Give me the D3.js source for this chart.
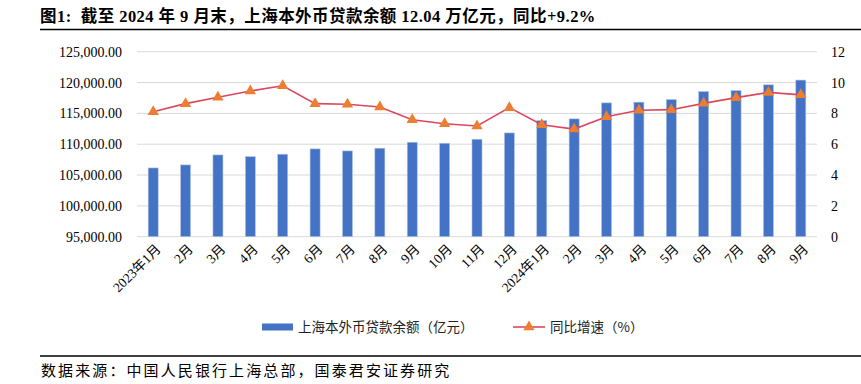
<!DOCTYPE html>
<html>
<head>
<meta charset="utf-8">
<script src="https://cdn.jsdelivr.net/npm/d3@7/dist/d3.min.js"></script>
<style>
  body { margin: 0; background: #fff; }
  svg { display: block; }
</style>
</head>
<body>
<div id="chart"></div>
<script>
// data
const months = ["2023年1月", "2月", "3月", "4月", "5月", "6月", "7月", "8月", "9月", "10月", "11月", "12月",
                "2024年1月", "2月", "3月", "4月", "5月", "6月", "7月", "8月", "9月"];
const loans = [106150, 106640, 108260, 107990, 108380, 109240, 108910, 109350, 110320, 110160, 110810, 111830,
               113830, 114110, 116700, 116820, 117240, 118540, 118700, 119630, 120400];
const yoy = [8.1, 8.63, 9.04, 9.45, 9.79, 8.63, 8.59, 8.41, 7.59, 7.33, 7.18, 8.37,
             7.26, 6.98, 7.78, 8.2, 8.24, 8.65, 9.02, 9.36, 9.2];
const leftTicks = [95000, 100000, 105000, 110000, 115000, 120000, 125000];
const rightTicks = [0, 2, 4, 6, 8, 10, 12];

const W = 861, H = 384;
const plot = {left: 137, right: 817, top: 51.7, bottom: 236.7};
const serif = "'Liberation Serif', 'Times New Roman', 'Noto Sans CJK SC', serif";
const cjk = "'Noto Sans CJK SC', sans-serif";

const svg = d3.select("#chart").append("svg")
    .attr("width", W)
    .attr("height", H);

// title + rule
svg.append("text")
    .attr("x", 40).attr("y", 21.5)
    .attr("font-family", serif)
    .attr("font-weight", "bold")
    .attr("font-size", 16.5)
    .attr("letter-spacing", 0.45)
    .attr("fill", "#000")
    .attr("xml:space", "preserve")
    .text("图1:  截至 2024 年 9 月末，上海本外币贷款余额 12.04 万亿元，同比+9.2%");
svg.append("line")
    .attr("x1", 40).attr("x2", W)
    .attr("y1", 29.5).attr("y2", 29.5)
    .attr("stroke", "#000").attr("stroke-width", 1.3);

// scales
const x = d3.scaleBand()
    .domain(months.map((d, i) => i))
    .range([plot.left, plot.right])
    .paddingInner(0.69)
    .paddingOuter(0.345);
const yL = d3.scaleLinear().domain([95000, 125000]).range([plot.bottom, plot.top]);
const yR = d3.scaleLinear().domain([0, 12]).range([plot.bottom, plot.top]);

// grid lines
svg.append("g")
  .selectAll("line")
  .data(leftTicks)
  .join("line")
    .attr("x1", plot.left).attr("x2", plot.right)
    .attr("y1", d => yL(d)).attr("y2", d => yL(d))
    .attr("stroke", "#d9d9d9")
    .attr("stroke-width", 1);

// left axis
const axL = svg.append("g")
    .attr("transform", `translate(${plot.left - 12},0)`)
    .call(d3.axisLeft(yL).tickValues(leftTicks).tickFormat(d3.format(",.2f")).tickSize(0));
axL.select(".domain").remove();
axL.selectAll("text")
    .attr("font-family", serif)
    .attr("font-size", 14)
    .attr("fill", "#000");

// right axis
const axR = svg.append("g")
    .attr("transform", `translate(${plot.right + 11},0)`)
    .call(d3.axisRight(yR).tickValues(rightTicks).tickSize(0));
axR.select(".domain").remove();
axR.selectAll("text")
    .attr("font-family", serif)
    .attr("font-size", 14)
    .attr("fill", "#000");

// bars
svg.append("g")
  .selectAll("rect")
  .data(loans)
  .join("rect")
    .attr("x", (d, i) => x(i))
    .attr("width", x.bandwidth())
    .attr("y", d => yL(d))
    .attr("height", d => yL(95000) - yL(d))
    .attr("fill", "#4472c4")
    .attr("stroke", "#b4c7e7")
    .attr("stroke-width", 0.6);

// x labels
svg.append("g")
  .selectAll("text")
  .data(months)
  .join("text")
    .attr("transform", (d, i) => `translate(${x(i) + x.bandwidth() / 2 + 5},${plot.bottom + 10}) rotate(-45)`)
    .attr("text-anchor", "end")
    .attr("dy", "0.35em")
    .attr("font-family", serif)
    .attr("font-size", 13.5)
    .attr("fill", "#000")
    .text(d => d);

// line + triangle markers
const cx = i => x(i) + x.bandwidth() / 2;
svg.append("path")
    .datum(yoy)
    .attr("fill", "none")
    .attr("stroke", "#dc4760")
    .attr("stroke-width", 1.6)
    .attr("d", d3.line().x((d, i) => cx(i)).y(d => yR(d)));

const tri = d3.symbol().type(d3.symbolTriangle).size(55);
svg.append("g")
  .selectAll("path")
  .data(yoy)
  .join("path")
    .attr("transform", (d, i) => `translate(${cx(i)},${yR(d)})`)
    .attr("d", tri)
    .attr("fill", "#ed7d31");

// legend
const lg = svg.append("g");
lg.append("rect")
    .attr("x", 262).attr("y", 323.5)
    .attr("width", 31).attr("height", 7)
    .attr("fill", "#4472c4");
lg.append("text")
    .attr("x", 298).attr("y", 327).attr("dy", "0.35em")
    .attr("font-family", cjk).attr("font-size", 13.5).attr("fill", "#222")
    .text("上海本外币贷款余额（亿元）");
lg.append("line")
    .attr("x1", 513).attr("x2", 545)
    .attr("y1", 327).attr("y2", 327)
    .attr("stroke", "#dc4760").attr("stroke-width", 1.6);
lg.append("path")
    .attr("transform", "translate(529,327)")
    .attr("d", tri)
    .attr("fill", "#ed7d31");
lg.append("text")
    .attr("x", 550).attr("y", 327).attr("dy", "0.35em")
    .attr("font-family", cjk).attr("font-size", 13.5).attr("fill", "#222")
    .text("同比增速（%）");

// source rule + footnote
svg.append("line")
    .attr("x1", 40).attr("x2", W)
    .attr("y1", 356).attr("y2", 356)
    .attr("stroke", "#000").attr("stroke-width", 1.3);
svg.append("text")
    .attr("x", 41).attr("y", 370.5).attr("dy", "0.35em")
    .attr("font-family", cjk).attr("font-size", 15).attr("fill", "#000")
    .attr("letter-spacing", 2.1)
    .text("数据来源：中国人民银行上海总部，国泰君安证券研究");
</script>
</body>
</html>
